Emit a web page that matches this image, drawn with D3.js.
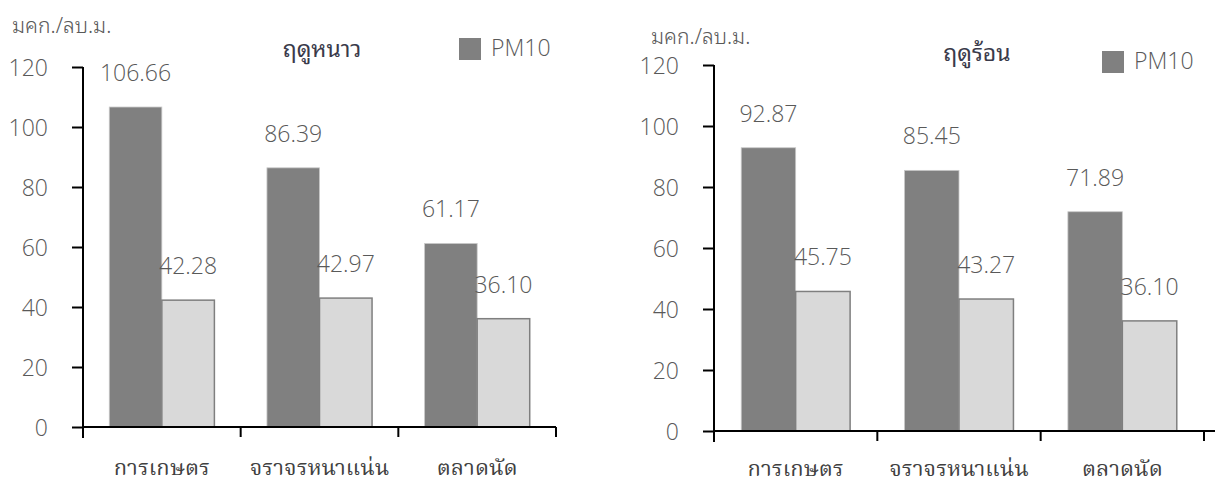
<!DOCTYPE html>
<html>
<head>
<meta charset="utf-8">
<script src="https://cdn.jsdelivr.net/npm/d3@7"></script>
<style>
  html, body { margin: 0; padding: 0; background: #fff; }
  svg { display: block; }
  .num { font-family: "Open Sans", "Noto Sans", sans-serif; font-weight: 300; fill: #595959; }
  .thai { font-family: "Noto Sans Thai Looped", "Leelawadee UI", "Noto Sans Thai", "Loma", "Garuda", sans-serif; }
  .thaiserif { font-family: "Noto Serif Thai", "Norasi", "Kinnari", "Laksaman", "Angsana New", serif; }
</style>
</head>
<body>
<svg id="chart" width="1215" height="487"></svg>
<script>
// Sampling sites
const categories = ["การเกษตร", "จราจรหนาแน่น", "ตลาดนัด"];
const seriesKeys = ["a", "b"];

// Winter season (µg/m³)
const winterPM10 = [106.66, 86.39, 61.17];
const winterB = [42.28, 42.97, 36.10];

// Summer season (µg/m³)
const summerPM10 = [92.87, 85.45, 71.89];
const summerB = [45.75, 43.27, 36.10];

const yTicks = [0, 20, 40, 60, 80, 100, 120];
const unitLabel = "มคก./ลบ.ม.";
const legendLabel = "PM10";

const colors = { a: "#808080", b: "#d9d9d9" };
const fmt = d3.format(".2f");

const svg = d3.select("#chart");
svg.append("rect").attr("width", 1215).attr("height", 487).attr("fill", "#fff");

function drawPanel(p) {
  const g = svg.append("g");

  const y = d3.scaleLinear().domain([0, 120]).range([p.bottom, p.top]);
  const x = d3.scaleBand().domain(categories).range([p.left, p.right]).padding(0);
  const xs = d3.scaleBand().domain(seriesKeys).range([0, x.bandwidth()])
    .paddingInner(0).paddingOuter(0.5);

  const rows = categories.map((c, i) => ({ c, a: p.a[i], b: p.b[i] }));

  // bars
  const grp = g.selectAll("g.cat").data(rows).join("g")
    .attr("class", "cat")
    .attr("transform", d => `translate(${x(d.c)},0)`);

  grp.selectAll("rect").data(d => seriesKeys.map(k => ({ k, v: d[k] }))).join("rect")
    .attr("x", d => xs(d.k))
    .attr("y", d => y(d.v))
    .attr("width", xs.bandwidth())
    .attr("height", d => y(0) - y(d.v))
    .attr("fill", d => colors[d.k])
    .attr("stroke", d => d.k === "a" ? "#c8c8c8" : "#7f7f7f")
    .attr("stroke-width", d => d.k === "a" ? 0.8 : 1.5);

  // value labels
  grp.selectAll("text").data(d => seriesKeys.map(k => ({ k, v: d[k] }))).join("text")
    .attr("class", "num")
    .attr("x", d => xs(d.k) + xs.bandwidth() / 2)
    .attr("y", d => y(d.v) - 35)
    .attr("text-anchor", "middle")
    .attr("dominant-baseline", "central")
    .attr("font-size", 23)
    .text(d => fmt(d.v));

  // y axis
  const yAxis = g.append("g")
    .attr("transform", `translate(${p.left},0)`)
    .call(d3.axisLeft(y).tickValues(yTicks).tickSize(11).tickPadding(24).tickSizeOuter(0));
  yAxis.select(".domain").attr("stroke", "#000").attr("stroke-width", 2)
    .attr("d", `M0,${p.bottom + 11}V${p.top}`);
  yAxis.selectAll(".tick line").attr("stroke", "#000").attr("stroke-width", 2);
  yAxis.selectAll(".tick text")
    .attr("class", "num")
    .attr("font-size", 23)
    .attr("fill", "#595959")
    .attr("dy", "0.35em");

  // x axis with ticks between categories
  const xg = g.append("g").attr("transform", `translate(0,${p.bottom})`);
  xg.append("line")
    .attr("x1", p.left).attr("x2", p.axisEnd)
    .attr("stroke", "#000").attr("stroke-width", 2);
  const bounds = categories.map(c => x(c)).concat([p.right]);
  xg.selectAll("line.tk").data(bounds).join("line")
    .attr("class", "tk")
    .attr("x1", d => d).attr("x2", d => d)
    .attr("y1", 0).attr("y2", 10)
    .attr("stroke", "#000").attr("stroke-width", 2);
  xg.selectAll("text").data(categories).join("text")
    .attr("class", "thaiserif")
    .attr("x", d => x(d) + x.bandwidth() / 2)
    .attr("y", p.catY - p.bottom)
    .attr("text-anchor", "middle")
    .attr("font-size", 22)
    .attr("fill", "#404040")
    .text(d => d);

  // unit label
  g.append("text").attr("class", "thai")
    .attr("x", p.unitX).attr("y", p.unitY)
    .attr("font-size", 21).attr("font-weight", 300).attr("fill", "#595959")
    .text(unitLabel);

  // title
  g.append("text").attr("class", "thai")
    .attr("x", p.titleX).attr("y", p.titleY)
    .attr("text-anchor", "middle")
    .attr("font-size", 23).attr("font-weight", 400).attr("fill", "#3a3a4a")
    .text(p.title);

  // legend
  g.append("rect")
    .attr("x", p.legX).attr("y", p.legY - 11)
    .attr("width", 22).attr("height", 22)
    .attr("fill", colors.a);
  g.append("text").attr("class", "num")
    .attr("x", p.legX + 32).attr("y", p.legY - 2)
    .attr("dominant-baseline", "central")
    .attr("font-size", 23)
    .text(legendLabel);
}

drawPanel({
  a: winterPM10, b: winterB, title: "ฤดูหนาว",
  left: 83, right: 556, top: 67, bottom: 427, axisEnd: 556,
  catY: 475, unitX: 12, unitY: 33, titleX: 322, titleY: 57,
  legX: 459, legY: 49
});

drawPanel({
  a: summerPM10, b: summerB, title: "ฤดูร้อน",
  left: 714, right: 1204, top: 65, bottom: 431, axisEnd: 1215,
  catY: 476, unitX: 651, unitY: 44, titleX: 977, titleY: 61,
  legX: 1102, legY: 62
});
</script>
</body>
</html>
